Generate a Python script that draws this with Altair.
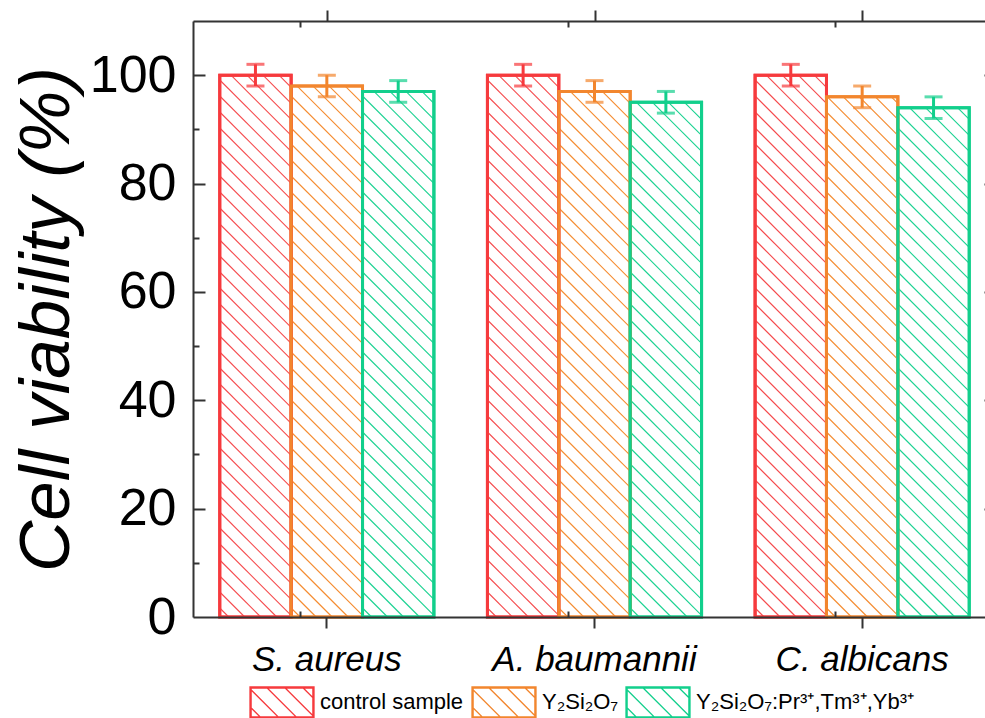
import altair as alt
import pandas as pd

# ---------------- data ----------------
categories = ["S. aureus", "A. baumannii", "C. albicans"]
series = ["control sample", "Y₂Si₂O₇", "Y₂Si₂O₇:Pr³⁺,Tm³⁺,Yb³⁺"]
control_vals = [100, 100, 100]
y2si2o7_vals = [98, 97, 96]
doped_vals = [97, 95, 94]
control_err = [2, 2, 2]
y2si2o7_err = [2, 2, 2]
doped_err = [2, 2, 2]
y_labels = [0, 20, 40, 60, 80, 100]
y_major = [20, 40, 60, 80, 100]
y_minor = [10, 30, 50, 70, 90]
colors = ["#F63A3D", "#F2862E", "#12CF8C"]
hatch_colors = ["#F54A4D", "#F58C30", "#1AD291"]

vals = [control_vals, y2si2o7_vals, doped_vals]
errs = [control_err, y2si2o7_err, doped_err]
rows = []
for si, s in enumerate(series):
    for ci, c in enumerate(categories):
        v = vals[si][ci]
        e = errs[si][ci]
        rows.append({"category": c, "series": s, "value": v, "lo": v - e, "hi": v + e,
                     "col": colors[si]})
df = pd.DataFrame(rows)

# ---------------- layout ----------------
W, RW, H = 792, 803, 596
YMAX = 110
NC, NS = len(categories), len(series)
STEP = RW / NC
BAR_W = STEP * 0.8 / NS
PX_Y = H / YMAX
HATCH = 16.0
AX = "#333333"
FONT = "Liberation Sans"

# hatch lines (45 degree texture inside each bar), in slot / value units
hatch_rows = []
for si, s in enumerate(series):
    for ci, c in enumerate(categories):
        v = vals[si][ci]
        left_u = ci + 0.1 + si * 0.8 / NS
        w, h = BAR_W, v * PX_Y
        cc = 9.0
        while cc < w + h - 1:
            X0 = max(0.0, cc - h)
            X1 = min(w, cc)
            hatch_rows.append({"series": s, "col": hatch_colors[si],
                               "u": left_u + X0 / STEP, "u2": left_u + X1 / STEP,
                               "y": (cc - X0) / PX_Y, "y2": (cc - X1) / PX_Y})
            cc += HATCH
hatch_df = pd.DataFrame(hatch_rows)

xs = alt.Scale(domain=categories, range=[0, RW], paddingInner=0.2, paddingOuter=0.1)
xq = alt.Scale(domain=[0, NC], range=[0, RW], nice=False, zero=False)
xo = alt.Scale(domain=series, paddingInner=0, paddingOuter=0)
ys = alt.Scale(domain=[0, YMAX], nice=False, zero=True)
ss = alt.Scale(domain=series, range=colors)


def legend_path():
    hy = 31 / 64
    parts = []
    for inset in (0, 0.035):
        a, b = -1 + inset, hy - inset
        parts.append(f"M{a:.3f},{-b:.3f}L{-a:.3f},{-b:.3f}L{-a:.3f},{b:.3f}L{a:.3f},{b:.3f}Z")
    sp = 18 / 32
    c = -1 - hy + 0.35
    while c < 1 + hy:
        y0 = max(-hy, -1 - c)
        y1 = min(hy, 1 - c)
        if y1 - y0 > 0.05:
            parts.append(f"M{y0 + c:.3f},{y0:.3f}L{y1 + c:.3f},{y1:.3f}")
        c += sp
    return "".join(parts)


leg = alt.Legend(orient="none", legendX=56, legendY=648, direction="horizontal",
                 title=None, symbolType=legend_path(), symbolSize=4096,
                 symbolStrokeWidth=1.3, symbolFillColor="white",
                 labelFontSize=22, labelFont=FONT, labelColor="black",
                 labelOffset=5, columnPadding=5, padding=0, labelLimit=500)

x_axis_main = alt.Axis(orient="bottom", labelFontSize=35, labelFontStyle="italic",
                       labelPadding=14, labelAngle=0, labelLimit=400, tickSize=11,
                       tickWidth=2, tickColor=AX, domainColor=AX, domainWidth=2,
                       title=None, grid=False, zindex=1)
y_axis_main = alt.Axis(orient="left", values=y_labels, ticks=False, tickSize=0,
                       labelFontSize=52, labelPadding=17, domain=True,
                       domainColor=AX, domainWidth=2, grid=False, zindex=1,
                       title="Cell viability (%)", titleFontSize=71,
                       titleFontStyle="italic", titleFontWeight="normal",
                       titleX=-146, titleY=H / 2, titleAngle=270,
                       titleBaseline="middle", titleAlign="center")

bars = alt.Chart(df).mark_bar(filled=False, strokeWidth=3).encode(
    x=alt.X("category:N", scale=xs, axis=x_axis_main),
    xOffset=alt.XOffset("series:N", scale=xo),
    y=alt.Y("value:Q", scale=ys, axis=y_axis_main),
    stroke=alt.Stroke("series:N", scale=ss, legend=leg),
)

hatch = alt.Chart(hatch_df).mark_rule(strokeWidth=1.1).encode(
    x=alt.X("u:Q", scale=xq, axis=None),
    x2="u2:Q",
    y=alt.Y("y:Q", scale=ys, axis=None),
    y2="y2:Q",
    color=alt.Color("col:N", scale=None),
)

outline = alt.Chart(df).mark_bar(filled=False, strokeWidth=3).encode(
    x=alt.X("category:N", scale=xs, axis=None),
    xOffset=alt.XOffset("series:N", scale=xo),
    y=alt.Y("value:Q", scale=ys, axis=None),
    stroke=alt.Stroke("series:N", scale=ss, legend=leg),
)

err = alt.Chart(df).mark_rule(strokeWidth=3).encode(
    x=alt.X("category:N", scale=xs, axis=None),
    xOffset=alt.XOffset("series:N", scale=xo),
    y=alt.Y("lo:Q", scale=ys, axis=None),
    y2="hi:Q",
    stroke=alt.Stroke("series:N", scale=ss, legend=leg),
)
caps = alt.Chart(df).transform_fold(["lo", "hi"], as_=["end", "pos"]).mark_tick(
    orient="horizontal", size=18, thickness=3
).encode(
    x=alt.X("category:N", scale=xs, axis=None),
    xOffset=alt.XOffset("series:N", scale=xo),
    y=alt.Y("pos:Q", scale=ys, axis=None),
    fill=alt.Fill("col:N", scale=None),
)


def axis_layer(xaxis, yaxis):
    return alt.Chart(df).mark_point(opacity=0).encode(
        x=alt.X("category:N", scale=xs, axis=xaxis),
        y=alt.Y("value:Q", scale=ys, axis=yaxis),
    )


common = dict(labels=False, tickWidth=2, tickColor=AX, title=None, grid=False, zindex=1)
layers = [
    bars, hatch, outline, err, caps,
    axis_layer(alt.Axis(orient="top", tickSize=11, domain=True, domainColor=AX,
                        domainWidth=2, **common), None),
    axis_layer(alt.Axis(orient="bottom", offset=-H, tickSize=6, domain=False,
                        bandPosition=0, tickOffset=-STEP * 0.1, **common), None),
    axis_layer(alt.Axis(orient="top", offset=-H, tickSize=6, domain=False,
                        bandPosition=0, tickOffset=-STEP * 0.1, **common), None),
    axis_layer(None, alt.Axis(orient="right", offset=-W, values=y_major, tickSize=12,
                              domain=False, **common)),
    axis_layer(None, alt.Axis(orient="right", offset=-W, values=y_minor, tickSize=6,
                              domain=False, **common)),
    axis_layer(None, alt.Axis(orient="left", offset=-RW, values=y_major, tickSize=12,
                              domain=False, **common)),
]

chart = (
    alt.layer(*layers)
    .resolve_scale(x="independent")
    .resolve_axis(x="independent", y="independent")
    .properties(width=W, height=H,
                padding={"left": 193, "top": 21, "right": 0, "bottom": 101},
                autosize=alt.AutoSizeParams(type="none"))
    .configure_view(stroke=None)
    .configure(font=FONT)
    .configure_axis(labelFont=FONT, titleFont=FONT, labelColor="black", titleColor="black")
)

chart.save("out.html", embed_options={"renderer": "svg", "actions": False})
